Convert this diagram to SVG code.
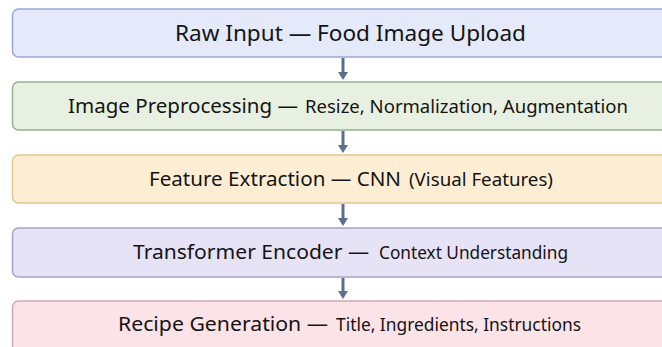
<svg xmlns="http://www.w3.org/2000/svg" width="662" height="347" viewBox="0 0 662 347">
<style>
.box{stroke-width:1.5}
.t{font-family:"Noto Sans","Open Sans","Liberation Sans",sans-serif;fill:#141414}
.big{font-size:21px}
.med{font-size:20px}
.sm{font-size:18px}
.arr{stroke:#5b6f8e;stroke-width:3;fill:none}
.hd{fill:#5b6f8e}
</style>
<rect width="662" height="347" fill="#ffffff"/>
<g id="n1">
<rect class="box" x="12.5" y="9" width="660" height="48" rx="6" fill="#e5eafa" stroke="#9ba8d6"/>
<text class="t big" x="175" y="41" textLength="351" lengthAdjust="spacingAndGlyphs">Raw Input — Food Image Upload</text>
</g>
<g id="n2">
<rect class="box" x="12.5" y="82" width="660" height="48" rx="6" fill="#e8f1e1" stroke="#93b38c"/>
<text class="t med" x="68" y="113" textLength="230" lengthAdjust="spacingAndGlyphs">Image Preprocessing —</text>
<text class="t sm" x="305" y="113" textLength="323" lengthAdjust="spacingAndGlyphs">Resize, Normalization, Augmentation</text>
</g>
<g id="n3">
<rect class="box" x="12.5" y="155" width="660" height="48" rx="6" fill="#fdeed3" stroke="#e2c890"/>
<text class="t med" x="149" y="186" textLength="252" lengthAdjust="spacingAndGlyphs">Feature Extraction — CNN</text>
<text class="t sm" x="409" y="186" textLength="144" lengthAdjust="spacingAndGlyphs">(Visual Features)</text>
</g>
<g id="n4">
<rect class="box" x="12.5" y="228" width="660" height="49" rx="6" fill="#e7e3f6" stroke="#a9a1c9"/>
<text class="t med" x="133" y="259" textLength="236" lengthAdjust="spacingAndGlyphs">Transformer Encoder —</text>
<text class="t sm" x="379" y="259" textLength="189" lengthAdjust="spacingAndGlyphs">Context Understanding</text>
</g>
<g id="n5">
<rect class="box" x="12.5" y="301" width="660" height="60" rx="6" fill="#fbe3e8" stroke="#d1aab2"/>
<text class="t med" x="118" y="331" textLength="210" lengthAdjust="spacingAndGlyphs">Recipe Generation —</text>
<text class="t sm" x="336" y="331" textLength="245" lengthAdjust="spacingAndGlyphs">Title, Ingredients, Instructions</text>
</g>
<g id="edges">
<line class="arr" x1="343" y1="58" x2="343" y2="73"/>
<path class="hd" d="M338,72 L348,72 L343,80 Z"/>
<line class="arr" x1="343" y1="131" x2="343" y2="146"/>
<path class="hd" d="M338,145 L348,145 L343,153 Z"/>
<line class="arr" x1="343" y1="204" x2="343" y2="219"/>
<path class="hd" d="M338,218 L348,218 L343,226 Z"/>
<line class="arr" x1="343" y1="278" x2="343" y2="292"/>
<path class="hd" d="M338,291 L348,291 L343,299 Z"/>
</g>
</svg>
